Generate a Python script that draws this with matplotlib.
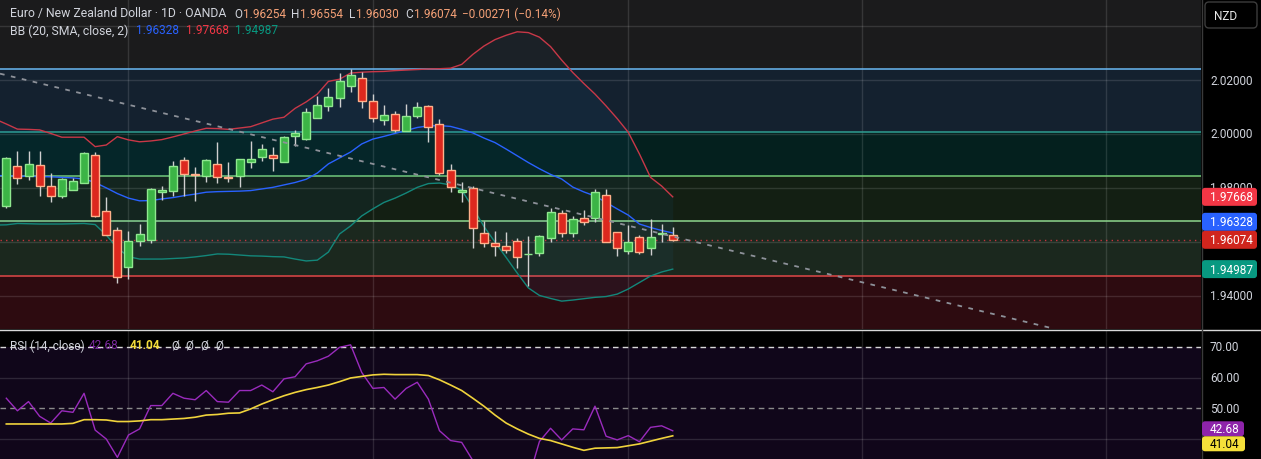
import matplotlib
matplotlib.use('Agg')
import matplotlib.pyplot as plt
import numpy as np
from matplotlib.patches import FancyBboxPatch
from matplotlib.lines import Line2D
from matplotlib.transforms import IdentityTransform

plt.rcParams['font.family'] = ['Roboto', 'DejaVu Sans']

# ---------------- data ----------------
opens = [1.9731, 1.9880, 1.9845, 1.9884, 1.9806, 1.9771, 1.9793, 1.9819, 1.9922, 1.9714,
         1.9643, 1.9508, 1.9602, 1.9606, 1.9784, 1.9790, 1.9905, 1.9853, 1.9843, 1.9887,
         1.9841, 1.9843, 1.9895, 1.9916, 1.9922, 1.9895, 1.9991, 1.9981, 2.0058, 2.0105,
         2.0132, 2.0177, 2.0206, 2.0123, 2.0053, 2.0073, 2.0012, 2.0068, 2.0103, 2.0037,
         1.9866, 1.9784, 1.9798, 1.9633, 1.9597, 1.9583, 1.9602, 1.9554, 1.9557, 1.9615,
         1.9706, 1.9632, 1.9687, 1.9687, 1.9774, 1.9635, 1.9567, 1.9619, 1.9576, 1.9630,
         1.96254]
highs = [1.9915, 1.9936, 1.9936, 1.9936, 1.9855, 1.9837, 1.9837, 1.9932, 1.9932, 1.9765,
         1.9654, 1.9639, 1.9665, 1.9800, 1.9808, 1.9900, 1.9913, 1.9876, 1.9907, 1.9971,
         1.9897, 1.9908, 1.9974, 1.9963, 1.9950, 1.9994, 2.0016, 2.0095, 2.0140, 2.0169,
         2.0225, 2.0241, 2.0229, 2.0148, 2.0109, 2.0085, 2.0111, 2.0120, 2.0107, 2.0055,
         1.9889, 1.9821, 1.9806, 1.9678, 1.9641, 1.9635, 1.9614, 1.9623, 1.9625, 1.9725,
         1.9718, 1.9697, 1.9719, 1.9796, 1.9796, 1.9637, 1.9662, 1.9625, 1.9685, 1.9666,
         1.96554]
lows = [1.9727, 1.9814, 1.9830, 1.9771, 1.9749, 1.9761, 1.9792, 1.9817, 1.9693, 1.9625,
        1.9446, 1.9462, 1.9583, 1.9594, 1.9755, 1.9771, 1.9771, 1.9752, 1.9821, 1.9818,
        1.9820, 1.9804, 1.9875, 1.9901, 1.9864, 1.9895, 1.9956, 1.9978, 2.0058, 2.0084,
        2.0099, 2.0157, 2.0095, 2.0045, 2.0033, 2.0008, 2.0012, 2.0059, 1.9971, 1.9848,
        1.9784, 1.9747, 1.9576, 1.9580, 1.9548, 1.9558, 1.9502, 1.9437, 1.9546, 1.9600,
        1.9619, 1.9619, 1.9663, 1.9672, 1.9600, 1.9548, 1.9555, 1.9555, 1.9551, 1.9600,
        1.96030]
closes = [1.9911, 1.9838, 1.9889, 1.9806, 1.9771, 1.9832, 1.9824, 1.9929, 1.9697, 1.9626,
          1.9468, 1.9602, 1.9628, 1.9796, 1.9792, 1.9880, 1.9850, 1.9849, 1.9902, 1.9839,
          1.9838, 1.9907, 1.9907, 1.9944, 1.9912, 1.9988, 2.0004, 2.0080, 2.0107, 2.0136,
          2.0195, 2.0219, 2.0121, 2.0058, 2.0070, 2.0016, 2.0065, 2.0099, 2.0027, 1.9855,
          1.9804, 1.9791, 1.9650, 1.9594, 1.9584, 1.9571, 1.9545, 1.9556, 1.9620, 1.9709,
          1.9632, 1.9683, 1.9675, 1.9784, 1.9600, 1.9576, 1.9598, 1.9561, 1.9619, 1.9633,
          1.96074]
change_text = '−0.00271 (−0.14%)'

# Bollinger Bands (20, SMA, close, 2), bar index -1 .. 60
bb_upper = [2.0055, 2.0037, 2.0018, 2.0017, 2.0015, 2.0002, 1.9988, 1.9988, 1.9988, 1.9953,
            1.9959, 1.9990, 1.9978, 1.9971, 1.9974, 1.9979, 1.9989, 2.0000, 2.0011, 2.0021,
            2.0020, 2.0017, 2.0022, 2.0027, 2.0041, 2.0055, 2.0062, 2.0095, 2.0119, 2.0148,
            2.0195, 2.0203, 2.0226, 2.0229, 2.0231, 2.0232, 2.0235, 2.0237, 2.0239, 2.0241,
            2.0242, 2.0244, 2.0258, 2.0295, 2.0326, 2.0350, 2.0366, 2.0379, 2.0376, 2.0359,
            2.0324, 2.0274, 2.0228, 2.0187, 2.0148, 2.0104, 2.0057, 2.0006, 1.9926, 1.9839,
            1.9807, 1.97668]
bb_basis = [1.9846, 1.9845, 1.9844, 1.9843, 1.9842, 1.9841, 1.9839, 1.9837, 1.9833, 1.9820,
            1.9800, 1.9779, 1.9762, 1.9752, 1.9753, 1.9759, 1.9764, 1.9771, 1.9777, 1.9784,
            1.9786, 1.9787, 1.9788, 1.9790, 1.9796, 1.9802, 1.9811, 1.9820, 1.9832, 1.9855,
            1.9889, 1.9911, 1.9933, 1.9963, 1.9981, 1.9991, 2.0002, 2.0013, 2.0024, 2.0030,
            2.0031, 2.0028, 2.0017, 2.0004, 1.9985, 1.9968, 1.9944, 1.9919, 1.9894, 1.9871,
            1.9850, 1.9833, 1.9803, 1.9785, 1.9770, 1.9746, 1.9722, 1.9699, 1.9666, 1.9653,
            1.9642, 1.96328]
bb_lower = [1.9662, 1.9663, 1.9668, 1.9667, 1.9666, 1.9666, 1.9666, 1.9667, 1.9668, 1.9664,
            1.9625, 1.9577, 1.9545, 1.9536, 1.9536, 1.9536, 1.9538, 1.9540, 1.9544, 1.9549,
            1.9555, 1.9554, 1.9551, 1.9548, 1.9547, 1.9545, 1.9544, 1.9536, 1.9529, 1.9532,
            1.9562, 1.9629, 1.9659, 1.9696, 1.9722, 1.9746, 1.9762, 1.9781, 1.9802, 1.9816,
            1.9818, 1.9811, 1.9792, 1.9727, 1.9657, 1.9599, 1.9542, 1.9484, 1.9429, 1.9401,
            1.9390, 1.9380, 1.9384, 1.9389, 1.9394, 1.9397, 1.9406, 1.9425, 1.9449, 1.9473,
            1.9488, 1.94987]

# RSI (14) and its moving average, bar index 0 .. 60
rsi = [53.3, 49.2, 52.2, 47.4, 45.2, 49.2, 48.7, 54.9, 42.9, 40.0,
       34.0, 41.3, 43.3, 50.9, 50.9, 54.9, 53.3, 52.8, 55.8, 52.2,
       52.0, 55.8, 55.8, 57.6, 55.4, 59.6, 60.3, 64.5, 65.5, 67.0,
       69.9, 70.7, 61.7, 56.5, 56.8, 53.0, 56.5, 58.5, 53.0, 42.7,
       39.5, 38.9, 33.0, 30.5, 29.5, 28.5, 26.5, 26.8, 39.2, 43.5,
       39.7, 43.3, 43.0, 50.7, 40.9, 39.7, 41.1, 39.1, 43.8, 44.3,
       42.68]
rsi_ma = [44.9, 44.9, 44.9, 44.9, 44.9, 44.9, 45.1, 46.3, 46.3, 46.2,
          45.7, 45.7, 45.9, 46.3, 46.3, 46.5, 46.7, 47.1, 47.8, 48.0,
          48.4, 48.5, 49.8, 51.4, 52.8, 54.1, 55.2, 56.1, 56.8, 57.6,
          58.7, 59.9, 60.4, 60.9, 61.1, 61.0, 61.0, 61.0, 60.7, 59.3,
          57.6, 55.8, 53.3, 50.7, 47.8, 45.2, 43.3, 41.6, 40.2, 39.5,
          38.4, 37.3, 36.3, 37.0, 37.1, 37.2, 37.8, 38.4, 39.3, 40.2,
          41.04]

# Fibonacci retracement levels (0, .236, .382, .5, .618, .786, 1)
fib_prices = [1.9143, 1.9473, 1.9676, 1.9843, 2.0007, 2.0241, 2.0543]
fib_line_colors = ['#787b86', '#e04848', '#8ed88e', '#76cc76', '#2f9e92', '#6ab8f2', '#787b86']
fib_fill_colors = ['#2d0b10', '#1b281e', '#131f13', '#04201e', '#14212f', '#1b1b1c']

# dashed trend line drawing (two anchor points: bar index, price)
trend_x = [0, 94.2]
trend_y = [2.0218, 1.9279]

grid_prices = [2.04, 2.02, 2.00, 1.98, 1.96, 1.94]
price_labels = [2.02, 2.00, 1.98, 1.94]
grid_bars = [11, 33, 56, 77, 99]
rsi_labels = [70, 60, 50]

# ---------------- figure ----------------
W, H = 1261, 460
fig = plt.figure(figsize=(W / 100, H / 100), dpi=100, facecolor='#000000')
ax = fig.add_axes([0, (H - 330) / H, 1201 / W, 330 / H])
rx = fig.add_axes([0, 0, 1201 / W, 129 / H])
for a in (ax, rx):
    a.set_facecolor('#000000')
    a.set_xticks([])
    a.set_yticks([])
    for s in a.spines.values():
        s.set_visible(False)
    a.set_xlim(-0.567, 107.56)
ax.set_ylim(1.92766, 2.05006)
rx.set_ylim(33.48, 75.54)

# fib zones
for i in range(len(fib_prices) - 1):
    ax.axhspan(fib_prices[i], fib_prices[i + 1], color=fib_fill_colors[i], lw=0, zorder=0)
for p, col in zip(fib_prices, fib_line_colors):
    ax.axhline(p, color=col, lw=1.1, zorder=1.2)

# grid
for p in grid_prices:
    ax.axhline(p, color='#ffffff', alpha=0.12, lw=1, zorder=0.5)
for g in grid_bars:
    ax.axvline(g, color='#ffffff', alpha=0.12, lw=1, zorder=0.5)
    rx.axvline(g, color='#ffffff', alpha=0.12, lw=1, zorder=0.5)

# Bollinger bands
bx = np.arange(-1, len(bb_upper) - 1)
ax.fill_between(bx, bb_upper, bb_lower, color='#2196f3', alpha=0.055, lw=0, zorder=1.5)
ax.plot(bx, bb_upper, color='#c83848', lw=1, zorder=2)
ax.plot(bx, bb_basis, color='#2962ff', lw=1, zorder=2)
ax.plot(bx, bb_lower, color='#13877a', lw=1, zorder=2)

# candles
o = np.array(opens); h = np.array(highs); l = np.array(lows); c = np.array(closes)
idx = np.arange(len(o))
up = c >= o
lo = np.minimum(o, c)
bh = np.maximum(np.abs(c - o), 0.00005)
ax.vlines(idx, l, h, color='#cfcfcf', lw=1, zorder=3)
ax.bar(idx[up], bh[up], bottom=lo[up], width=0.72, color='#3cb446',
       edgecolor='#8fe88f', lw=1, zorder=4)
ax.bar(idx[~up], bh[~up], bottom=lo[~up], width=0.72, color='#dc281e',
       edgecolor='#ffb08a', lw=1, zorder=4)

# current price line
ax.axhline(closes[-1], color='#f23645', lw=1, ls=(0, (1, 3)), alpha=0.8, zorder=2.5)

# trend line
ax.axline((trend_x[0], trend_y[0]), (trend_x[1], trend_y[1]), color='#8d9199',
          lw=1.3, ls=(0, (2.6, 3.6)), zorder=6)

# RSI panel
rx.axhspan(30, 70, color='#10061a', lw=0, zorder=0)
rx.axhline(70, color='#d8d8d8', lw=1, ls=(0, (4, 3)), zorder=1)
rx.axhline(50, color='#8a8a8a', lw=1, ls=(0, (4, 3)), zorder=1)
rx.axhline(30, color='#8a8a8a', lw=1, ls=(0, (4, 3)), zorder=1)
for g in (60, 40):
    rx.axhline(g, color='#ffffff', alpha=0.13, lw=1, zorder=0.5)
rx.plot(idx, rsi, color='#9a2bbd', lw=1, zorder=3)
rx.plot(idx, rsi_ma, color='#f0d33c', lw=1.2, zorder=3)

# separators
fig.add_artist(Line2D([0, 1], [(H - 330.5) / H] * 2, color='#d8d8d8', lw=1,
                      transform=fig.transFigure))
fig.add_artist(Line2D([1201.5 / W] * 2, [0, 1], color='#3a3a3a', lw=1,
                      transform=fig.transFigure))

FS = 8.5
TXT = '#d1d4dc'


def ftext(x, y, s, color=TXT, **kw):
    fig.text(x / W, 1 - y / H, s, color=color, fontsize=kw.pop('fontsize', FS),
             va='center', ha='left', zorder=kw.pop('zorder', 7), **kw)


# header legend
ORG = '#f5a177'
ftext(10, 14, 'Euro / New Zealand Dollar · 1D · OANDA', fontsize=8.8)
ftext(234, 14, 'O'); ftext(243.5, 14, f'{opens[-1]:.5f}', ORG)
ftext(291, 14, 'H'); ftext(300, 14, f'{highs[-1]:.5f}', ORG)
ftext(348.5, 14, 'L'); ftext(356, 14, f'{lows[-1]:.5f}', ORG)
ftext(405, 14, 'C'); ftext(414, 14, f'{closes[-1]:.5f}', ORG)
ftext(462, 14, change_text, ORG)
ftext(10, 31, 'BB (20, SMA, close, 2)', fontsize=8.8)
ftext(136, 31, f'{bb_basis[-1]:.5f}', '#2962ff')
ftext(186, 31, f'{bb_upper[-1]:.5f}', '#f23645')
ftext(234.5, 31, f'{bb_lower[-1]:.5f}', '#089981')

# RSI legend
ftext(10, 346, 'RSI (14, close)')
ftext(89, 346, f'{rsi[-1]:.2f}', '#7b2a9e')
ftext(130, 346, f'{rsi_ma[-1]:.2f}', '#f3dc3a', fontweight='bold')
for xx in (171, 185, 200, 215):
    ftext(xx, 346, 'Ø', '#d1d4dc')


def ypix(a, v):
    return H - a.transData.transform((0, v))[1]


# right axis labels
for p in price_labels:
    ftext(1210, ypix(ax, p), f'{p:.5f}', zorder=4)
for r in rsi_labels:
    ftext(1210, ypix(rx, r), f'{r:.2f}', zorder=4)


def tag(yc, text, fc, tc='#ffffff', h=18, x1=1257):
    p = FancyBboxPatch((1202, H - yc - h / 2), x1 - 1202, h,
                       boxstyle='round,pad=0,rounding_size=3',
                       transform=IdentityTransform(), fc=fc, ec='none', zorder=5)
    fig.add_artist(p)
    ftext(1210, yc, text, tc, zorder=6)


y_close = ypix(ax, closes[-1])
tags = [(bb_upper[-1], '#f23645'), (bb_basis[-1], '#2962ff'), (bb_lower[-1], '#089981')]
for v, col in tags:
    yv = ypix(ax, v)
    if abs(yv - y_close) < 18:
        yv = y_close - 18 if yv < y_close else y_close + 18
    tag(yv, f'{v:.5f}', col)
tag(y_close, f'{closes[-1]:.5f}', '#d0251d')

y_r = ypix(rx, rsi[-1])
y_m = ypix(rx, rsi_ma[-1])
if abs(y_m - y_r) < 15:
    y_r -= 2; y_m = y_r + 15
tag(y_r, f'{rsi[-1]:.2f}', '#8e24aa', h=15, x1=1244)
tag(y_m, f'{rsi_ma[-1]:.2f}', '#f5e03a', tc='#000000', h=15, x1=1245)

# currency button
btn = FancyBboxPatch((1205, H - 29), 52, 26, boxstyle='round,pad=0,rounding_size=4',
                     transform=IdentityTransform(), fc='#000000', ec='#3c3c3c', lw=1, zorder=5)
fig.add_artist(btn)
ftext(1214, 16, 'NZD', '#e8e8e8', zorder=6)

fig.savefig('out.png', dpi=100, facecolor='#000000')
